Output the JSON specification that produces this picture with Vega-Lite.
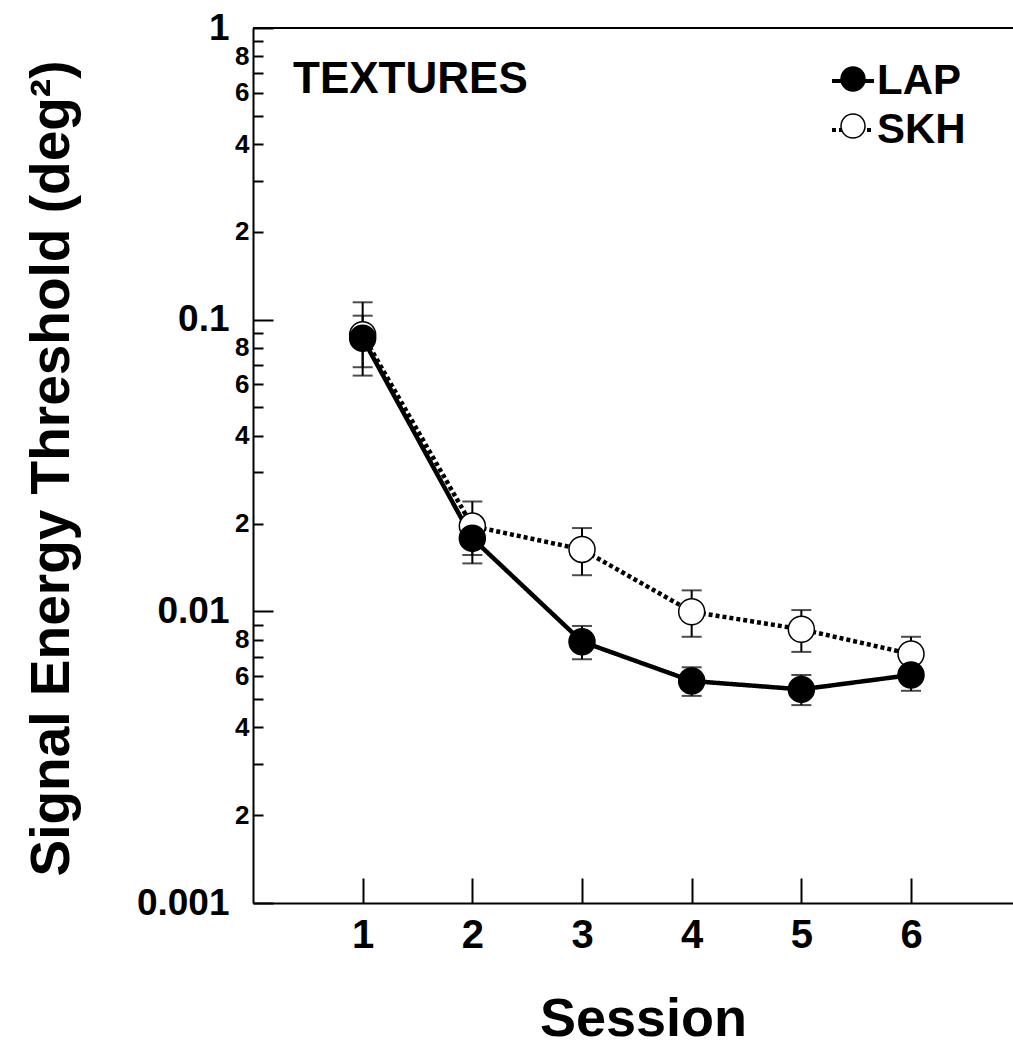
{
  "$schema": "https://vega.github.io/schema/vega-lite/v6.json",
  "width": 760,
  "height": 875,
  "autosize": {"type": "none"},
  "padding": {"left": 253, "top": 28, "right": 0, "bottom": 141},
  "background": "white",
  "config": {"view": {"stroke": null}, "font": "Liberation Sans"},
  "data": {
    "values": [
      {"session": 1, "observer": "SKH", "value": 0.0888, "lo": 0.0687, "hi": 0.1147},
      {"session": 2, "observer": "SKH", "value": 0.0196, "lo": 0.0156, "hi": 0.0238},
      {"session": 3, "observer": "SKH", "value": 0.0163, "lo": 0.0133, "hi": 0.0193},
      {"session": 4, "observer": "SKH", "value": 0.00997, "lo": 0.00818, "hi": 0.0118},
      {"session": 5, "observer": "SKH", "value": 0.00868, "lo": 0.00726, "hi": 0.0101},
      {"session": 6, "observer": "SKH", "value": 0.00714, "lo": 0.00624, "hi": 0.00818},
      {"session": 1, "observer": "LAP", "value": 0.0863, "lo": 0.0643, "hi": 0.1032},
      {"session": 2, "observer": "LAP", "value": 0.0178, "lo": 0.0146, "hi": 0.0204},
      {"session": 3, "observer": "LAP", "value": 0.00787, "lo": 0.00685, "hi": 0.00891},
      {"session": 4, "observer": "LAP", "value": 0.00577, "lo": 0.00513, "hi": 0.00643},
      {"session": 5, "observer": "LAP", "value": 0.0054, "lo": 0.00477, "hi": 0.00605},
      {"session": 6, "observer": "LAP", "value": 0.00605, "lo": 0.00534, "hi": 0.00681}
    ]
  },
  "layer": [
    {
      "mark": {"type": "line", "color": "black", "strokeWidth": 4.5, "strokeCap": "butt"},
      "encoding": {
        "x": {
          "field": "session", "type": "quantitative", "title": "Session",
          "scale": {"domain": [0, 6.93], "nice": false, "zero": false},
          "axis": {
            "values": [1, 2, 3, 4, 5, 6], "format": "d",
            "tickSize": -25, "tickWidth": 2, "tickColor": "black",
            "domainWidth": 2, "domainColor": "black", "grid": false,
            "labelFontSize": 40, "labelFontWeight": "bold", "labelColor": "black",
            "labelPadding": 37, "labelFlush": false, "labelFont": "Liberation Sans",
            "title": "Session", "titleFontSize": 54, "titleFontWeight": "bold", "titleColor": "black",
            "titleFont": "Liberation Sans",
            "titleX": 390, "titleY": 132, "titleBaseline": "alphabetic", "titleAlign": "center"
          }
        },
        "y": {
          "field": "value", "type": "quantitative", "title": "Signal Energy Threshold (deg²)",
          "scale": {"type": "log", "domain": [0.001, 1], "nice": false},
          "axis": {
            "values": [0.001, 0.002, 0.003, 0.004, 0.005, 0.006, 0.007, 0.008, 0.009, 0.01, 0.02, 0.03, 0.04, 0.05, 0.06, 0.07, 0.08, 0.09, 0.1, 0.2, 0.3, 0.4, 0.5, 0.6, 0.7, 0.8, 0.9, 1],
            "labelExpr": "abs(log(datum.value)/LN10 - round(log(datum.value)/LN10)) < 0.001 ? (datum.value > 0.5 ? '1' : datum.value > 0.05 ? '0.1' : datum.value > 0.005 ? '0.01' : '0.001') : (round(datum.value / pow(10, floor(log(datum.value)/LN10 + 0.001))) % 2 == 0 ? '' + round(datum.value / pow(10, floor(log(datum.value)/LN10 + 0.001))) : '')",
            "labelFontSize": {"condition": {"test": "abs(log(datum.value)/LN10 - round(log(datum.value)/LN10)) < 0.001", "value": 37}, "value": 26},
            "tickSize": {"condition": {"test": "abs(log(datum.value)/LN10 - round(log(datum.value)/LN10)) < 0.001", "value": -20}, "value": -10},
            "labelPadding": {"condition": {"test": "abs(log(datum.value)/LN10 - round(log(datum.value)/LN10)) < 0.001", "value": 44}, "value": 14},
            "labelFontWeight": "bold", "labelColor": "black", "labelFont": "Liberation Sans",
            "labelOverlap": false, "labelFlush": false, "labelBound": false,
            "domainColor": "black", "domainWidth": 2, "tickColor": "black", "tickWidth": 2,
            "grid": false,
            "title": "Signal Energy Threshold (deg²)", "titleFontSize": 55, "titleFontWeight": "bold",
            "titleColor": "black", "titleFont": "Liberation Sans",
            "titleX": -185, "titleY": 440, "titleAngle": 270, "titleBaseline": "alphabetic", "titleAlign": "center"
          }
        },
        "strokeDash": {
          "field": "observer", "type": "nominal",
          "scale": {"domain": ["LAP", "SKH"], "range": [[1, 0], [4, 3]]},
          "legend": {
            "orient": "none", "legendX": 577, "legendY": 30, "title": null,
            "symbolType": "stroke", "symbolSize": 1764, "symbolStrokeWidth": 4, "symbolStrokeColor": "black",
            "labelFontSize": 42, "labelFont": "Liberation Sans", "labelFontWeight": "bold", "labelColor": "black",
            "labelOffset": 1, "rowPadding": 5, "padding": 0
          }
        }
      }
    },
    {
      "mark": {"type": "errorbar", "color": "black", "thickness": 2, "ticks": {"size": 20, "thickness": 2, "color": "black"}, "rule": {"strokeWidth": 2, "color": "black"}},
      "encoding": {
        "x": {"field": "session", "type": "quantitative", "title": "Session"},
        "y": {"field": "lo", "type": "quantitative", "title": "Signal Energy Threshold (deg²)"},
        "y2": {"field": "hi"}
      }
    },
    {
      "mark": {"type": "point", "shape": "circle", "filled": true, "size": 676, "stroke": "black", "strokeWidth": 1.5, "opacity": 1},
      "encoding": {
        "x": {"field": "session", "type": "quantitative", "title": "Session"},
        "y": {"field": "value", "type": "quantitative", "title": "Signal Energy Threshold (deg²)"},
        "fill": {
          "field": "observer", "type": "nominal",
          "scale": {"range": ["black", "white"]},
          "legend": {
            "orient": "none", "legendX": 579, "legendY": 30, "title": null,
            "symbolType": "circle", "symbolSize": 576, "symbolStrokeWidth": 1.5, "symbolStrokeColor": "black", "symbolOpacity": 1,
            "labelFontSize": 42, "labelFont": "Liberation Sans", "labelFontWeight": "bold", "labelExpr": "''",
            "labelOffset": 0, "rowPadding": 5, "padding": 0
          }
        }
      }
    },
    {
      "data": {"values": [{}]},
      "mark": {"type": "rule", "color": "black", "strokeWidth": 2},
      "encoding": {"y": {"datum": 1, "type": "quantitative"}}
    },
    {
      "data": {"values": [{}]},
      "mark": {"type": "text", "text": "TEXTURES", "align": "left", "baseline": "middle", "fontSize": 44, "fontWeight": "bold", "font": "Liberation Sans", "color": "black"},
      "encoding": {
        "x": {"datum": 0.365, "type": "quantitative"},
        "y": {"datum": 0.663, "type": "quantitative"}
      }
    }
  ]
}
